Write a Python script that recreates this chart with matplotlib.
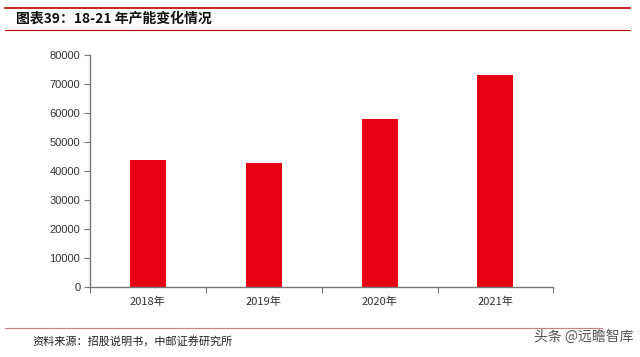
import matplotlib as mpl
mpl.use('Agg')
import matplotlib.pyplot as plt
import numpy as np
from matplotlib.lines import Line2D

plt.rcParams['font.family'] = ['Noto Sans CJK SC', 'DejaVu Sans']

years = ['2018年', '2019年', '2020年', '2021年']
capacity = [43800, 42800, 58000, 73100]
yticks = [0, 10000, 20000, 30000, 40000, 50000, 60000, 70000, 80000]

fig = plt.figure(figsize=(6.4, 3.57), dpi=100)
ax = fig.add_axes([0.1406, 0.196, 0.724, 0.65])

ind = np.arange(len(years)) + 0.5
ax.bar(ind, capacity, 0.31, color='#e60012', zorder=2)
ax.set_xlim(0, len(years))
ax.set_ylim(0, 80000)
ax.set_yticks(yticks)
ax.set_yticklabels([str(v) for v in yticks], fontsize=8, color='#333333', family='Liberation Sans')
ax.set_xticks(np.arange(len(years) + 1))
ax.set_xticklabels([])
ax.set_xticks(ind, minor=True)
ax.set_xticklabels(years, minor=True, fontsize=8, color='#333333')
ax.tick_params(axis='x', which='minor', length=0, pad=7)
ax.tick_params(axis='x', which='major', length=4, color='#777777')
ax.tick_params(axis='y', length=4, color='#777777', pad=3)
for s in ['top', 'right']:
    ax.spines[s].set_visible(False)
for s in ['left', 'bottom']:
    ax.spines[s].set_color('#777777')
    ax.spines[s].set_linewidth(1.0)

# header / footer decoration
fig.add_artist(Line2D([0.008, 0.985], [1 - 8 / 357, 1 - 8 / 357], color='#c00000', lw=1.2))
fig.add_artist(Line2D([0.008, 0.985], [1 - 30 / 357, 1 - 30 / 357], color='#c00000', lw=0.8))
fig.text(0.025, 1 - 19 / 357, '图表39：18-21 年产能变化情况', fontsize=10, fontweight='bold',
         va='center', ha='left', color='#111111')
fig.add_artist(Line2D([0.008, 0.94], [1 - 328 / 357, 1 - 328 / 357], color='#d08080', lw=0.8))
fig.text(0.05, 1 - 341 / 357, '资料来源：招股说明书，中邮证券研究所', fontsize=8, va='center', ha='left',
         color='#222222')
fig.text(0.99, 1 - 337 / 357, '头条 @远瞻智库', fontsize=10, va='center', ha='right', color='#555555')

plt.savefig('out.png', dpi=100)
